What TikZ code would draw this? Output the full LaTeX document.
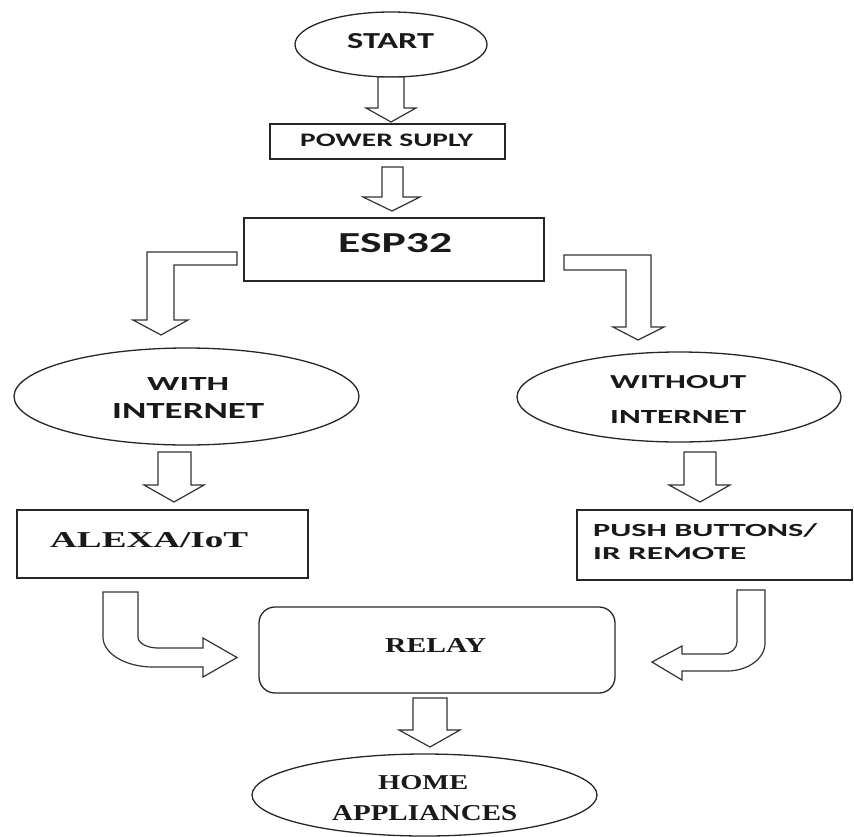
\documentclass[tikz,border=0pt]{standalone}
\usepackage{fontspec}
\setmainfont{Liberation Serif}
\newfontfamily\calibf{Carlito}
\usetikzlibrary{shapes.geometric}
\newcommand{\fittxt}[3]{\resizebox{#1pt}{#2pt}{#3}}
\begin{document}
\begin{tikzpicture}[x=1pt,y=-1pt,
  shapeline/.style={draw=black!85, line width=1.3pt},
  oval/.style={shapeline, ellipse, inner sep=0pt},
  boxnode/.style={shapeline, rectangle, inner sep=0pt},
  blockarrow/.style={draw=black!80, line width=1.2pt, fill=white, line join=miter},
  txt/.style={anchor=base west, inner sep=0pt, text=black!90}]
\useasboundingbox (0,0) rectangle (854,836);

% shapes
\node[oval, minimum width=192pt, minimum height=65pt] (start) at (391,44.5) {};
\node[boxnode, minimum width=235pt, minimum height=35pt] (power) at (387.5,141.5) {};
\node[boxnode, line width=1.6pt, minimum width=300pt, minimum height=63pt] (esp) at (394,249.5) {};
\node[oval, minimum width=345pt, minimum height=97pt] (with) at (186.5,396.5) {};
\node[oval, minimum width=324pt, minimum height=90pt] (without) at (679,397) {};
\node[boxnode, minimum width=291pt, minimum height=68pt] (alexa) at (162.5,544) {};
\node[boxnode, minimum width=275pt, minimum height=70pt] (push) at (714.5,545) {};
\node[boxnode, rounded corners=16pt, minimum width=356pt, minimum height=86pt] (relay) at (437,650) {};
\node[oval, minimum width=345pt, minimum height=82pt] (home) at (424.5,795) {};

% texts
\node[txt] (tstart) at (347,48) {\fittxt{87}{15}{\calibf\bfseries START}};
\node[txt] (tpower) at (300,146) {\fittxt{173}{12.5}{\calibf\bfseries POWER SUPLY}};
\node[txt] (tesp) at (338,252) {\fittxt{114}{19}{\calibf\bfseries ESP32}};
\node[txt] (twith1) at (147,390) {\fittxt{82}{13}{\calibf\bfseries WITH}};
\node[txt] (twith2) at (112,418) {\fittxt{152}{15}{\calibf\bfseries INTERNET}};
\node[txt] (two1) at (610,388) {\fittxt{136}{13}{\calibf\bfseries WITHOUT}};
\node[txt] (two2) at (610,423) {\fittxt{136}{13}{\calibf\bfseries INTERNET}};
\node[txt] (talexa) at (50,547) {\fittxt{198}{15}{\bfseries ALEXA/IoT}};
\node[txt] (tpush1) at (593,536) {\fittxt{224}{13}{\calibf\bfseries PUSH BUTTONS/}};
\node[txt] (tpush2) at (593,559) {\fittxt{153}{12}{\calibf\bfseries IR REMOTE}};
\node[txt] (trelay) at (385,652) {\fittxt{101}{14}{\bfseries RELAY}};
\node[txt] (thome1) at (378,789) {\fittxt{90}{14}{\bfseries HOME}};
\node[txt] (thome2) at (332,820) {\fittxt{185}{15}{\bfseries APPLIANCES}};

% straight block arrows
\draw[blockarrow] (378,77) -- (404,77) -- (404,108) -- (416,108) -- (391,122) -- (366,108) -- (378,108) -- cycle;
\draw[blockarrow] (382,167) -- (403,167) -- (403,197) -- (420,197) -- (392,211) -- (363,197) -- (382,197) -- cycle;
\draw[blockarrow] (158,452) -- (191,452) -- (191,485) -- (204,485) -- (174,502) -- (144,485) -- (158,485) -- cycle;
\draw[blockarrow] (684,452) -- (716,452) -- (716,485) -- (730,485) -- (700,502) -- (669,485) -- (684,485) -- cycle;
\draw[blockarrow] (413,698) -- (447,698) -- (447,730) -- (460,730) -- (430,747) -- (399,730) -- (413,730) -- cycle;

% bent block arrows from ESP32
\draw[blockarrow] (237,252) -- (147,252) -- (147,320) -- (133,320) -- (161,335) -- (188,320) -- (174,320) -- (174,265) -- (237,265) -- cycle;
\draw[blockarrow] (564,255) -- (651,255) -- (651,327) -- (664,327) -- (638,340) -- (613,327) -- (626,327) -- (626,270) -- (564,270) -- cycle;

% curved block arrows into RELAY
\draw[blockarrow] (103,592) -- (138,592) -- (138,637)
  .. controls (138,643.1) and (147,648) .. (158,648)
  -- (203,648) -- (203,638) -- (237,657.5) -- (203,677) -- (203,667) -- (153,667)
  .. controls (125.4,667) and (103,653.6) .. (103,637) -- cycle;
\draw[blockarrow] (737,590) -- (765,590) -- (765,643)
  .. controls (765,658.5) and (748,671) .. (727,671)
  -- (682,671) -- (682,680) -- (652,662) -- (682,646) -- (682,654) -- (723,654)
  .. controls (730.7,654) and (737,648.6) .. (737,642) -- cycle;
\end{tikzpicture}
\end{document}
